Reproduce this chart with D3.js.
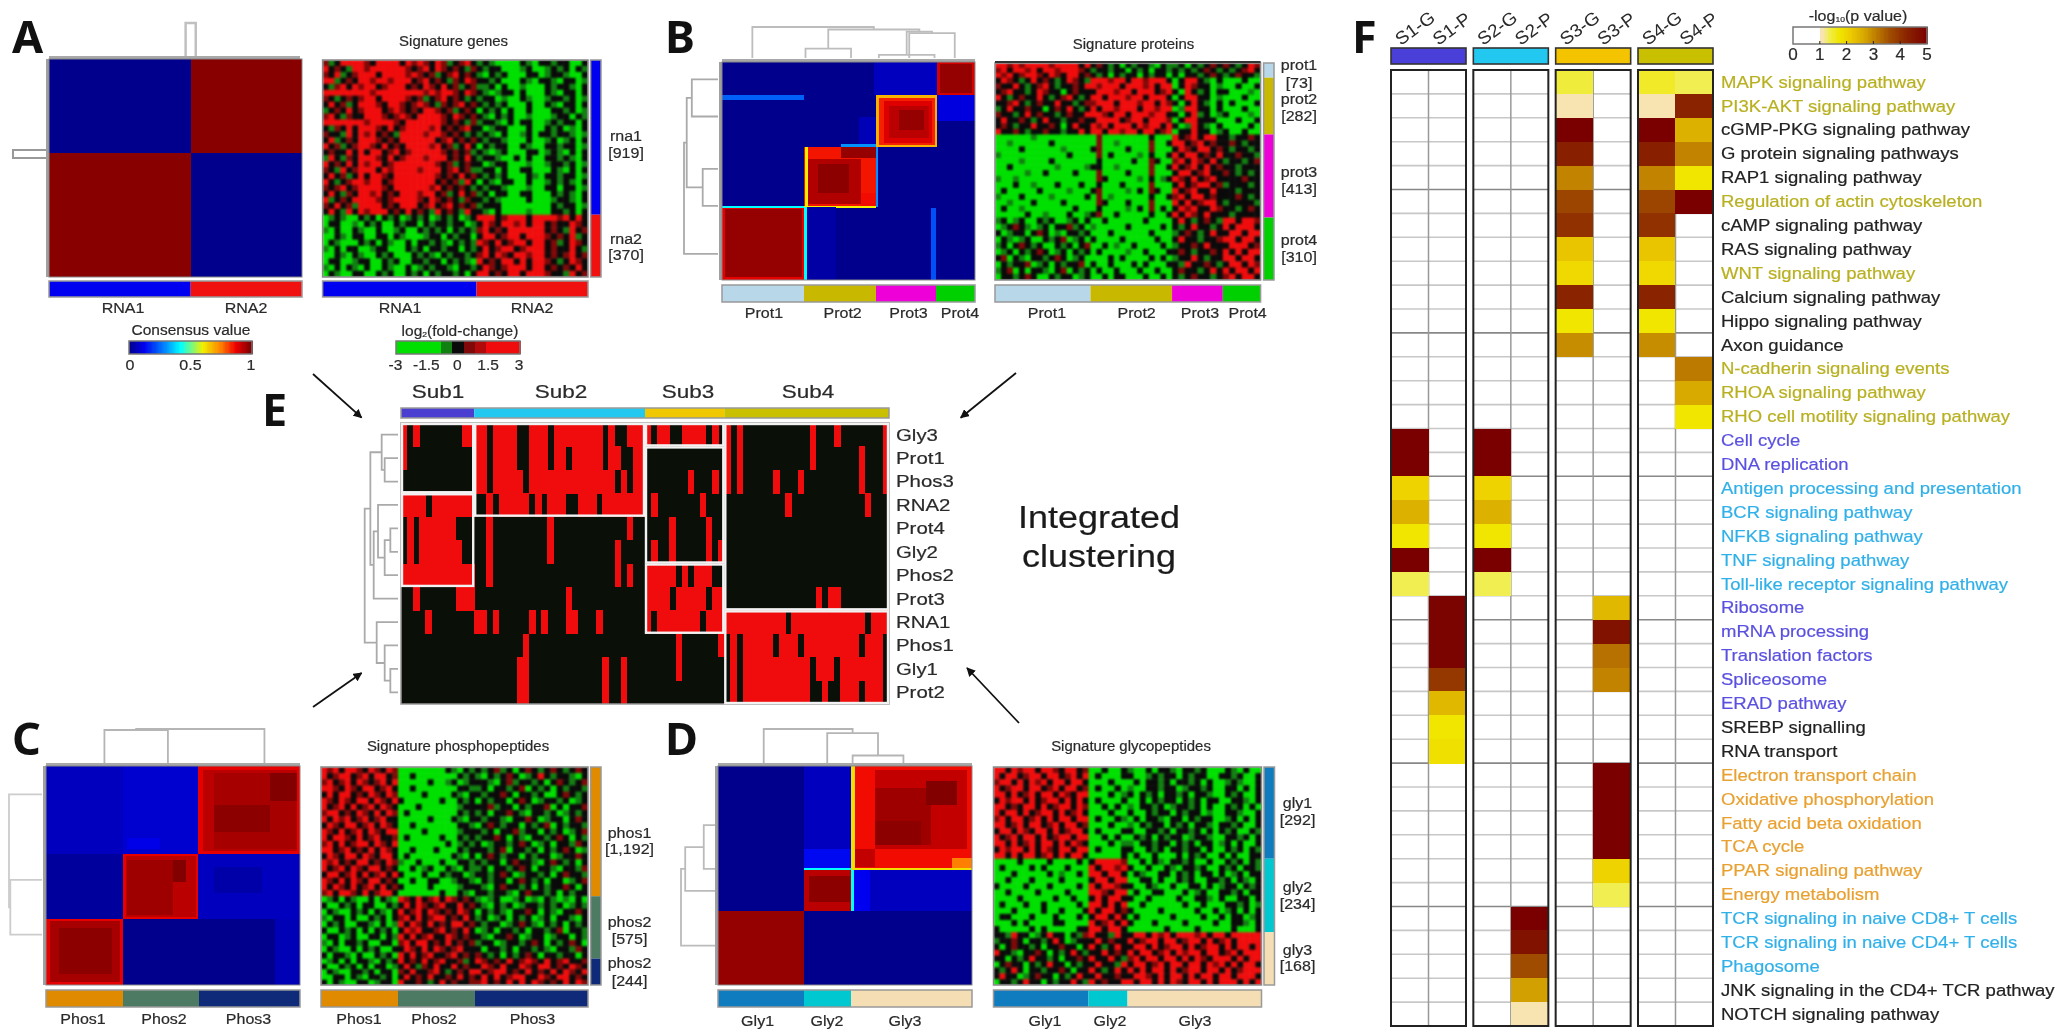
<!DOCTYPE html>
<html><head><meta charset="utf-8">
<script src="https://cdn.jsdelivr.net/npm/d3@7/dist/d3.min.js"></script>
<style>html,body{margin:0;padding:0;background:#fff}svg{display:block;filter:blur(.45px)}text{font-family:"Liberation Sans",Arial,sans-serif;stroke-width:.2px}</style>
</head><body><svg id="c" width="2062" height="1033"></svg>
<script>
// ---------- DATA ----------
const rnaSizes=[919,370], protSizes=[73,282,413,310], phosSizes=[1192,575,244], glySizes=[292,234,168];
const rnaCols=[58,42], protCols=[96,82,51,38], phosCols=[77,77,113], glyCols=[95,39,134];
const rnaConsCols=[56,44], protConsCols=[82,72,60,39], phosConsCols=[77,76,101], glyConsCols=[86,47,121];
const rnaColors=['#0000f0','#f01010'], protColors=['#b8d8ea','#c8b800','#ee00d8','#00d000'],
      phosColors=['#e08a00','#4c7a63','#0f2a78'], glyColors=['#0f7cc0','#00c8d0','#f5deb3'];

// consensus patches: [from col %, to col %, from row %, to row %, consensus value]
const consA=[[56,100,0,43,.985],[0,56,43,100,.985]];
const consB=[
 [60,85,0,15.3,.06],[85,100,15.3,27,.1],[54,60.8,25,38.9,.05],[84.8,100,0,15.3,.9],[86,99,1,14,.97],
 [0,32.5,15.3,17.6,.24],[60.8,84.8,15.3,38.9,.68],[62,84,16.5,38,.84],[64,83,18,37,.89],[66,82,20,35,.93],[70,80,22,31,.97],
 [32.5,60.8,38.9,66.7,.85],[47,60.8,38.9,44,.97],[34,55,44.5,65,.94],[38,50,47,60,.98],[55,60.8,60,66,.86],[34,47,38.9,44.5,.85],
 [33,33.9,38.9,66.7,.6],[32.5,60.8,66.1,66.8,.6],[60.8,61.6,38.9,66.7,.3],[47,60.8,37.6,38.9,.3],
 [0,32.5,66.7,100,.88],[1,31.5,67.6,98.5,.97],[0,32.5,66.1,66.9,.42],[32.5,33.6,66.7,100,.42],
 [33.6,45,66.7,100,.03],[82.5,84.5,67,100,.22]];
const consC=[
 [0,60,0,40,.06],[30.4,60,0,40,.08],[32,45,33,38,.11],[60,100,0,40,.88],[62,98.8,2,39,.93],[66,98.8,3,38,.95],[88,98.8,3,16,.99],[66,88,18,30,.98],
 [60,100,40,69.8,.06],[66,85,46,58,.035],[0,30.4,40,69.8,.02],[30.4,60,40,69.8,.88],[31.5,59,41,69,.93],[32,50,43,68,.96],[50,55,43,53,.99],
 [0,30.4,69.8,100,.88],[1.5,29,71,98.5,.95],[5,26,74,95,.98],[90,100,70,100,.05]];
const consD=[
 [33.7,52.5,0,38,.06],[33.7,52.5,38,46.5,.13],[33.7,52.5,46.5,47.6,.42],
 [52.5,100,0,47.6,.86],[62,98,2,38,.92],[62,84,10,36,.96],[82,94,7,18,.99],[62,80,25,36,.98],[52.5,62,38,46,.92],[92,100,42,47,.75],
 [52.5,54,0,47.6,.62],[52.5,100,46.6,47.6,.62],
 [33.7,52.5,47.6,66.4,.93],[36,52,50,62,.98],[53.5,60,47.6,66.4,.12],[60,100,47.6,66.4,.06],[52.5,53.5,47.6,66.4,.42],
 [0,33.7,66.4,100,.97]];

// signature heat maps: per row cluster, rows of levels, one word per column cluster (G g k r R)
const levelValues={G:-3,g:-1.2,k:0,r:1.2,R:3};
const sigA=[[
"rgkRRRRrkRRRRkRrRrkRrgkrRk gkgGGGGkgGkkgkkGGk","RkrkgRRrRRRRRRrkrRkRrkrkgr kgkkGGGgkGGgkgkGkg","rkRgkrRRRkRRRRrRrkrgkrRkrk gGkgkGGGkkGgkkgGGk","RRgkrkRRrRRrRRRkrRkrkgrkRr kkgkGGGkgGkkgGkkGg",
"kgrRkRrRRkrRRRkrkRrkRkrgkr ggkGkGGgGGGkgkkgGk","RRRRRRRRrRRRRRRRRrRrRRrkRr kgGgkkGkGGGkgGkkGk","rkgkrkrRRkRRRRrkrgkrRkrkgk gkkGgGGkgGGgkkgkGg","kRkrgkRRRrkRRrkrRrkgrkrRkr kgkgkGGGkGGkgGkkGk",
"gkrkRkrRRRkrRrkrkRRrkrgkrk GkgkGkGGkGGGkkgkGg","rRkgrkkRRRrkrRrkRRRRrkRrkr kgGkgkGGgGGGgkkGkg","RRRRRRRrRRRRrkRRRRRRrkrkgr gkkgGkGkkGGgkgkkGk","kgrkRkRRRrkRkrRRRRrRkrkrRk kGgkkGGGkGGkgkGgGk",
"rkkgRkRrRkrkgRRRRrRRrkrkgk gkgGkGGgkGkkgkkgGg","kRgkrkRRRrkrkRRRRRRkrRkrkr kgkkgGGGkGGgkGgkGk","RkrgkrRRrkRkrkRRRRrRkrgkRk GkgkkGGkgGGkkgkkGg","krkkRkRkRRkrRkrRRRRRrkrkrg kgGgkGGGkkGgkgGkGk",
"gRkgrkRRRrkRkrRRRrRRRkrkRk gkkgGGkGkGGkkgkgGk","RkrkRkRrRRkrRRRRRRRrkrgkrk kGgkkGGGgGGgkkgkGg","rkgRkrRRRkRrRRRRrRRRkrRkrg gkkGkGGkkGGGkgGkGk","kRkrgkRkRRrkRRRRRRRrkrkRkr kgkgkGGGkgGkkgkkGg",
"RkgkrRRrRRkrRRRRRRRkrkrgRk GkgGkkGGkGGgkgkgGk","rkrRkrRRRRrkRRRRRRrRkrkrkg kgkkgGGGgGGkkGkkGg","kRkgrkRRrRkrkRRRrRRkrgkRkr gkGkkGGkkGGGkgkgGk","RgkrkRRRRrkrRRRRrkRrkrkgrk kgkgGGGGkGGGgkkgGk",
"rkRkrgRRRRkrkRRRkrRkrRkrkr gkkkGGGGGGGGkgkkGg","kRkgRkRrRRRkrkRkrkgRkrkgRk kgGkGGGGgGGGkkgkGk"],[
"GgkgGGkgkGkgkGgkgkGgkgkGgk RRRkrRRRkRRRRrRkRk","GkkGGgGkgkGGkgkkGkgkkgkkGg kRrkRRrRkRRkrkkRrk","gGkGGkgGGkGGgkGGkgkgkGkgkg rRkrkRRRRRRkrkgRkr","GGkgGkkGGkkGkgGGGgkkGkgkkG kRRkrRRkRRRrkrkRgk",
"GkgGGGkgkGkgGGkGkkgkgGkgkg RrkRkrRRkRRkrgkRrk","gGkGkkGGgkkGGGkgkGkkgkkGkg kRkrRRkrRRRkrkkRkg","GGkgGkgGGkgkGGGkgkgGkgkkgk rRkRrkRRrRRkrkrRkr","GkkGGgkkGGkgkGGkkgkkGkgkgG RkrkRRkRkRRrkgkRrk",
"gGkGkgGkGGkgGGkGgkgkkgGkkg kRrkrRRRkRRkrkrkRk","GkgGGkkGGkgkGGkgkGkgkkgkGk RRkrkRRkRRRrkkgRkr"]];
const sigB=[[
"RRrRrRRRRrRRRRkR krkgkGkgkkgGkg gkGkgkrk rkgkRr","rRkRRrRkRRrRRRrk gkkgkkGkgkGkkg kgkgkrkg kgkrRk","RrRkrRRrkRrkRRkr kgkGkgkkGkgkkG kGkkgkrk gkrkkg"],[
"kRrkgkRkrkgkRrkg RRRrRRkRRrRRRk GkRRkgGk GGGkGG","rkkRkgkrRkgkkrkR RrRRRkRRRrRkRR GkRrkkGg GGkGGk","krRkkgkRrkkGkrkk kRRRrRRkRRRkrR kGRkgkGk kGGGgG","RkgkrkkRkgkrRkgk RRkRRRrRRkRRRk GkRRkkGg GGGkGG",
"kkrRkgkrkkRkkgkr rRRRkRRRrRRkRr kGkRkgGk GkGGGk","gkRkkrkkGkrkRkgk RkRRrRRRkRRrRR GgRRkkGk GGGkGG","rkkgkRkrkkgkrkkR RRrkRRkRRRrRRk kGkRgkGg kGGGgG","kRkkrkgkRkkgkkrk kRRRRkrRRkRRRr GkRRkkkG GGkGGk",
"krkgkkRkkrkGkRkk RrRkRRRkRrRRkR kGgRkgGk GGGGkG","RkkrkgkkrkkgkkRk RRkRRrRRkRRkrR GkkRkkGg kGGkGG"],[
"GGGGGGgGGGGGGGGG GrGGGGGGGGkGGG RkrRkRRk kgkkrk","GGgGGGGGGkGGGGGG GrGGgGGGGGrGGk RRkrRkrk krkgkk","GGGGkGGGGGGgGGGG krGGGGkGGGrGGG kRrkRRkr kgkkgk","gGGGGGGGGGGGkGGG GrGkGGGGgGkGGk RkRRkrkR kkrkkg",
"GGGGgGGGGkGGGGGG GkGGGGGkGGrkGG rRkRrkRk gkkgkr","GGkGGGGGGGgGGGGg kkGGgGGGGGrGGk RkrRkRkr kkgkkk","GGGGGgGGkGGGGkGG GrGGGGkGGGrGGG kRRkrRkk rkgkgk","gGGgGGGGGGGGGGGG GrkGGGGGgGkGgk RrkRkrRk kkkrkk",
"GGGkGGgGGGkGGGkG GkGGGkGGGGrGGG kRkrRRkr gkkkgk","GkGGGGGkGGGGgGGG krGGGGgGkGrkGG RkrRkkRk kkgkkk","gGGGkGGGGgGGGGGk GrGgGGGGGGkGGk rRkRRkrk kkrkgk","GGgGGGkGGGGkGGGG GrkGGGkGGGrGGG RkRkrRRk gkkkkg",
"GkGGgGGGGGGGGkGG GkGGGGgGkGrGkG kRrRkkRr kkgkrk","GGGGGkGGgGGGkGGg krGGkGGGGGkGGk RkRrkRkk kgkkkk"],[
"gkGgkGGkgkGGgkGk GGkGGGGGGkGGGG kRkgkrkg RRkRRr","GgkrkgGgkGkkrgkG gGGGGGkGGGGGkG kgkRkkgk RkRRRk","kGgkkGkrkGgGkkgk GGGkGGGGGGkGGG gkrkgkRk kRRkRR","GkgGgkGGkgkrGgkG kGGGGkGGGGGkGG kRkkgkkr RRkRRk",
"gkGkrkgkGGkgkGkr GGkGgGGkGGGGkG gkkrkRkk kRRRkr","GgkGkgkrkGgkGkgk GkGGGGgGGkGGGk krkgkkrk RkRkRR","krGkgGkkgkrkGgkG GGGkGkGGGGkGkG gkkRkgkk RRkRRk","GkgkkrGgkGkgkkrG kGGkGGGkGkGGGk kgRkkrkg kRRkRr",
"gkrGkGkkgGkrGkgk GkGGkGGGkGGkGG krkkgkRk RkRRkR","GkkgkrkGGkgkkGgk GGkGkkGGGkGGkG kgkrkkgk rRkRRk"]];
const sigC=[[
"RrRkRRrkRrkRr GGGGGGGGkgGkg kgkrgkGkrkgkrkgkrk","RkrRRkrRkRRkr GGkGGGGGGGkgk gGkgkrkGgkRkgkkgGk","rRkrRkRrkrRkR GGGGGkGGgkGgk kkgGkrgkkgkGkrkgkr","RRrkRrkRRkrRk GGkGGGGGGGkkg gkGkkgkrGkgkGkgkkg",
"kRkRRkrkRrkRr GGGGkGGGGkgGk kgkkrkGkkgkGGkrkgk","RrkRrkRRkRrkR kGGGGGGkGGkgk GkgkkGkrkGgkkgkGgk","RkrRkRkrRkRrk GGGkGGGGGGgkk kkrgkkGkgkkrGkGkkr","rRRkrkRrkRkRr GkGGGGGGGGkgk gkGkkrkgGkkgkGgkgk",
"RkRrRkrRkrRkk GGGGGkGGGkgGk kgkkgGkkrkGgkkGkrk","kRrkRRkrRkRrk GGkGGGGGGGkkg GkrkgkkGkgkrGkgkkg","RrkRkrRkRrkRR GGGGkGGGGGgkk kgkGkkrgkkGkgkGgkr","RkRRrkRkrRkkr GkGGGGGkGGkgk gkkrkGkgGkkgkrkGkg",
"rRkRkrRRkRrkR GGGGGGGGkGgkg kGgkkgkrkGgkGkkgrk","RRkrRkrkRkRrk GGkGGGkGGGkgk kkgkrGkkgkGkgkrkGg","kRrkRRkRrkRRk GkGGGGGGGkgGk GkrkgkkGkgkkGgkkrk","RrRkrkRRkrkRr gGGkGGGkGGkkg kgkkGkrkkgGkrkgkGk",
"RkrRkRrkRRkrk GGkGgkGGkgGkg gkGkkgkrkGkkgGkkgr","kRRkrRkRkrRkR kGGGkGGkgkkGg kkgkrkGgkkgkGkrkkg","RrkRkRrkRRkrk GGkGGkkGGgkkg GkgkkGkrkgkGkkGgkr","RkRrkRkrRkRkr kGGGGkGGGGgkk kgGkrkkgkGkgkkrkGk","rRkRRrkRkrRRk GGGGGGGkGGkgG kkgkkgGkrkkgkGkgkk"],[
"GgkGkgGGkGkgG RrkRkrRkRrkrk gGgkGGgkGgGkgGgGkG","kGGkgkGkkGGkg kRkRrkrRkkRkr kgGkgkGgkkgkgkGgkg","GkgGGkgkGkgGk RkrRkRrkrkRrk GkgkgGkkrkGkgGkkrk","gGkkGkGGkgkGk rRkRkrRRkrkRk gkGgkGkgkGgkGkkgGk",
"GkgkGGkkgGkGg RkRrkRkrkRRkr kgkkGgkrkgGkgkGkgk","kGGkgkGkGkgkG kRrRkkrRkrkRk GgkGkkgkGkkgkrGkkg","GkkGgkGGkkGkg RkRkrRkkRrkrk kgGkkrkGgkkGgkkGkg","gGkGkkgkGGkkG rRkRRkrkRkrkr gkkGgkkgkrkGkgkrkG",
"GkgGGkGkgkGGk kRrkRkRrkrRkk kGkkgkGkkgkgGkkgrk","kGkkgGkGGkgkG RkRkrRkkrRkrk rkgkGkgkrkGkkgkkGk"],[
"GgkGkGkkgGkgk RkrkRkrRkkrgk RrkrkRkrRrkRkrRkkr","kGGkgkGkGkkGg kRkgrkRkkRkrk kRrkRkkRrkRRkrkRrk","GkgGGkkgkGkkG rkRkkrRkgkrkR RkrRRkrkRkrkRkRrkR","GGkkGkgGkkgkG kRkrkRkkrkRkr kRkRkrRRkkRrkRRkrk","kGkgGGkkGgkkG RkkrkgkRkrkkr rRkrkRkRkRrkrkRkRr"]];
const sigD=[[
"RRkRrRRkRRrkRRkr GGkGGk gGGkGkkgGkkgkGGGkgGkGG","RkRRkrRRkRRkrRkR GkGGGk kGGgkgkkGkgkkGGkkgkGGk","rRRkRkRrRkRRkRRk GGGkGG GkGkkgkGkkgkGkGGgkgGGk","RkrRRkRRkrRkRRkr GkGGkG gGGkkgkkGgkkgkGGkkGkGk",
"RRkRkrRkRRkRrkRR GGGkGg kGkgkGkkgkGkkgGGkgkGGk","kRrRRkRkrRRkRkRk GkGGGk GGkGkgkkGkgkGkkGGkkgGk","RRkrkRRkRkrRRkRr GGkGkG gGkkgkGgkkgkGkGGkgkGkG","RkRRkRkrRRkRkrRk GGGkGG kGGkgkkGkgkkGgGGkkgGGk",
"rRkRRkrRkRkRRkRR GkGGkg GkGkkgGkkGkgkkGGgkGkGk","RRkrRkRRkrRkRRkr GGGkGG gGkgkkGkgkGkkgGkkgkGGk","kRRkRrkRRkRkrRRk GkGGGk kGGkkgkGkkgkGkGkgkGGkg","RkrRkRRkRkrRRkRR GGkGkG GkgkGkgkkGgkkgGGkkgkGk",
"RRkRkrRkRRkRkRrk GGGkGg gGkkgkkGkgkGkkGgkGkGGk","kRrRRkRkRrkRRkRR GkGGGk kGGkgkGkkgkkGkGGkgkGkg","RRkRkRRkrRkRkRRk GGGGGk GkGGkGGGkGkgkGGkGkGGkk"],[
"GGGGkGGGGkGGGGkG kRRRRr GGkGkgGkkgkGGkGGkgkGkg","GkGGGGkGkGGGkGGG RkRRrR kGGkGGkgGkkgkGGkgkGkkg","GGGkGGGGGkGgGGkG RRkRRk GkgGGkkGkgkGkkGkGgkGkk","GGkGGGkGGGGkGGGG kRRkRR GGkkGkGGkgkGGkkgkGkgGk",
"kGGGGkGGGkGGGGkG RkRRrk kGGkgGGkGGkkGkGgkkGkgk","GGkGGGGkGGGGkGGG RRrkRR GkGGkkGGGkGgkGGkkgkGkk","GGGGkGGGGGkGGkGG kRkRRk kGGkGGGGkGGkkgGkGGkkGk","GkGGGkGGkGGGGGkG RRkRkR GGkGGGGGGkGGkGGGkkgkGg",
"GGGkGGGGkGGkGGGk RkRRkr kGGGGkGGGGGkGGkGgkGkGk","GkkGGGkGGGkGGGkG kRRkRk GkGGGGGkGGGGkGGkGkkGgk","GGGkGkGGGGkkGGGG RkrRkR kGGGkGGGGkGGGGkGGkkgGk","kGGGGGkGkGGGGGkk RRkRRk GGGGGGkGGGGkGGGGGkGGGk"],[
"kkgRkkGgkRkkGkgr RkkgRk kRRkRrRkRRRrRkRRkRRRRR","gkkrkGkkgkRkGgkk kRkrkk RkrRRkRRkrRRkRkrRkRRRR","kGkrkkgkGkkrkkGk RkgkRk kRRkRkrRRkRkrRRkRkRRkR","RkkgGkkrkGkgkRkg kkRkrk RkRRkrRkRrRRkRRkrRkRRR",
"kkGkgkRkkgkGkkrk RkkRkg rRkRRkRRkRkRrkRRRkRkRR","GkrkkGkgkRkkGkgk kRkkgR kRRkrRkRRkRRkRrRkRkRRk","kgkRkGkkgkkrkGkk RkgkRk RkRkRRkRkrRRkRRkRkrRRR","kRkkGgkrkkGkgkRk kRkkrk kRRrkRkRRkRkRRkRRkRRRk","GkkgkRkkGkgkkRkg RkrkkR RkRRkRkRrkRRkRkRRRkRkR"]];

// integrated clustering
const subNames=['Sub1','Sub2','Sub3','Sub4'], subSizes=[12,28,13,27], subColors=['#4a3fd0','#22c8f0','#f0c800','#c8c000'];
const omicsRows=['Gly3','Prot1','Phos3','RNA2','Prot4','Gly2','Phos2','Prot3','RNA1','Phos1','Gly1','Prot2'];
// red column ranges of each row
const omicsRed=[
 "0 2 10-11 12-13 15-18 21-23 25-32 34 37-39 40 42-43 46-49 51 53 55 67 71 79",
 "0 12-13 15-18 21-23 25-26 28-32 34-35 38-39 53 55 67 75 79",
 "12-13 15-19 21-34 36 38-39 47 51 53 55 61 65 75 79",
 "0-3 5-11 14 16-20 22 24-26 29-31 33-39 41 49 63 76",
 "1 3-8 14 24 37 44 50",
 "1 3-9 14 24 35 41 44 50 52",
 "0-11 14 35 37 40-44 46 48-50",
 "2 9-11 27 40-43 45-49 51-52 68 70-71",
 "4 12-13 15 21 23 27-28 32 40 42-48 50-52 53-62 64-75 77-79",
 "20 45 52 54 56-60 62-64 66-74 76-78",
 "19-20 33 36 45 54 56-66 68-70 72-78",
 "19-20 33 36 54 56-66 69 72-74 76-78"];
const omicsBoxes=[[0,12,0,3],[0,12,3,7],[12,40,0,4],[40,53,0,1],[40,53,1,6],[40,53,6,9],[53,80,0,8],[53,80,8,12]];
const omicsTree=[100,[83,[49,0,[40,1,2]],[73,[60,3,[40,[23,4,5],6]],7]],[64,8,[40,9,[23,10,11]]]];

// dendrograms: [height %, left, right], leaves are positions in % of the heat map
const treeATop=[100,54,58], treeALeft=[100,41.7,45.4];
const treeBTop=[100,12,[92,[30,33,51],[85,[10,62,84],[80,74,92]]]];
const treeBLeft=[100,[92,[77,8,25],[45,49,66]],88];
const treeCTop=[100,[97,23,48],86], treeCLeft=[100,13,[96,52,77]];
const treeDTop=[100,18,[88,43,[22,53,73]]];
const treeDLeft=[100,[88,[35,27,47],57],82];

// panel F
const fGroups=['S1','S2','S3','S4'], fTypes=['G','P'], fGroupColors=['#4a3fd8','#22c8f0','#f5c400','#c8c000'];
const pathways=['MAPK signaling pathway','PI3K-AKT signaling pathway','cGMP-PKG signaling pathway','G protein signaling pathways','RAP1 signaling pathway','Regulation of actin cytoskeleton','cAMP signaling pathway','RAS signaling pathway','WNT signaling pathway','Calcium signaling pathway','Hippo signaling pathway','Axon guidance','N-cadherin signaling events','RHOA signaling pathway','RHO cell motility signaling pathway','Cell cycle','DNA replication','Antigen processing and presentation','BCR signaling pathway','NFKB signaling pathway','TNF signaling pathway','Toll-like receptor signaling pathway','Ribosome','mRNA processing','Translation factors','Spliceosome','ERAD pathway','SREBP signalling','RNA transport','Electron transport chain','Oxidative phosphorylation','Fatty acid beta oxidation','TCA cycle','PPAR signaling pathway','Energy metabolism','TCR signaling in naive CD8+ T cells','TCR signaling in naive CD4+ T cells','Phagosome','JNK signaling in the CD4+ TCR pathway','NOTCH signaling pathway'];
const pathwayClass=['o','o','k','k','k','o','k','k','o','k','k','k','o','o','o','p','p','c','c','c','c','c','p','p','p','p','p','k','k','y','y','y','y','y','y','c','c','c','k','k'];
const fS1G=[0,0,0,0,0,0,0,0,0,0,0,0,0,0,0,5,5,2,2.5,1.7,5,1.3,0,0,0,0,0,0,0,0,0,0,0,0,0,0,0,0,0,0];
const fS1P=[0,0,0,0,0,0,0,0,0,0,0,0,0,0,0,0,0,0,0,0,0,0,4.9,4.9,4.9,3.9,2.4,1.7,1.8,0,0,0,0,0,0,0,0,0,0,0];
const fS2G=[0,0,0,0,0,0,0,0,0,0,0,0,0,0,0,5,5,2,2.5,1.7,5,1.3,0,0,0,0,0,0,0,0,0,0,0,0,0,0,0,0,0,0];
const fS2P=[0,0,0,0,0,0,0,0,0,0,0,0,0,0,0,0,0,0,0,0,0,0,0,0,0,0,0,0,0,0,0,0,0,0,0,5,4.6,3.6,2.7,1.1];
const fS3G=[1.4,1.1,5,4.3,3,3.7,4,2.2,1.9,4.2,1.7,2.9,0,0,0,0,0,0,0,0,0,0,0,0,0,0,0,0,0,0,0,0,0,0,0,0,0,0,0,0];
const fS3P=[0,0,0,0,0,0,0,0,0,0,0,0,0,0,0,0,0,0,0,0,0,0,2.4,4.6,3.2,3,0,0,0,5,5,5,5,2,1.3,0,0,0,0,0];
const fS4G=[1.5,1.1,5,4.3,3,3.7,4,2.2,1.9,4.2,1.7,2.9,0,0,0,0,0,0,0,0,0,0,0,0,0,0,0,0,0,0,0,0,0,0,0,0,0,0,0,0];
const fS4P=[1.3,4.2,2.5,3,1.7,5,0,0,0,0,0,0,3.1,2.6,1.7,0,0,0,0,0,0,0,0,0,0,0,0,0,0,0,0,0,0,0,0,0,0,0,0,0];
const fValues=[fS1G,fS1P,fS2G,fS2P,fS3G,fS3P,fS4G,fS4P];
const fTicks=[0,1,2,3,4,5], consTicks=[0,.5,1], logTicks=[-3,-1.5,0,1.5,3], logSteps=[-3,-3,-3,-3,-1.2,0,1.2,2,3,3,3];

// ---------- SCALES ----------
const consColor=d3.scaleLinear().domain([0,.12,.3,.42,.6,.75,.87,1]).range(['#00008c','#0000f0','#0090ff','#00ffff','#f0f000','#ff8000','#f00000','#7a0000']);
const logColor=d3.scaleLinear().domain([-3,-1.2,0,1.2,3]).range(['#00e000','#108010','#0a0a0a','#800808','#f00c0c']);
const pColor=v=>v<1?'#ffffff':d3.scaleLinear().domain([1,1.1,1.3,1.7,2.1,2.6,3.1,3.6,4.2,5]).range(['#f8e4b0','#f8e4b0','#f0ee50','#f0e600','#edcc00','#d8aa00','#bc7a00','#a04c00','#8a2400','#7a0000'])(v);
const classColor={o:'#b8b020',k:'#222',p:'#5a50e0',c:'#30b0e8',y:'#e8a030'};

// ---------- HELPERS ----------
const svg=d3.select('#c');
const ink='#2a2a2a';
function label(x,y,s,size=15,anchor='middle',fill=ink,sx=1.07,weight='normal'){
  return svg.append('text').attr('transform',`translate(${x},${y}) scale(${sx},1)`).attr('text-anchor',anchor)
   .attr('dominant-baseline','central').attr('font-size',size).attr('font-weight',weight).attr('fill',fill).attr('stroke',fill).text(s);
}
function letter(x,y,s){svg.append('text').attr('x',x).attr('y',y).attr('font-size',45).attr('font-weight',700).attr('fill','#111').style('font-family','"Noto Sans"').text(s);}
function edges(sizes){return d3.cumsum([0,...sizes]);}
function hbar(x0,x1,y0,y1,sizes,colors){
  const e=edges(sizes),x=d3.scaleLinear([0,e[e.length-1]],[x0,x1]);
  svg.append('g').selectAll('rect').data(sizes).join('rect').attr('x',(d,i)=>x(e[i])).attr('width',(d,i)=>x(e[i+1])-x(e[i])).attr('y',y0).attr('height',y1-y0).attr('fill',(d,i)=>colors[i]);
  svg.append('rect').attr('x',x0).attr('y',y0).attr('width',x1-x0).attr('height',y1-y0).attr('fill','none').attr('stroke','#999').attr('stroke-width',1.5);
}
function vbar(x0,x1,y0,y1,sizes,colors){
  const e=edges(sizes),y=d3.scaleLinear([0,e[e.length-1]],[y0,y1]);
  svg.append('g').selectAll('rect').data(sizes).join('rect').attr('y',(d,i)=>y(e[i])).attr('height',(d,i)=>y(e[i+1])-y(e[i])).attr('x',x0).attr('width',x1-x0).attr('fill',(d,i)=>colors[i]);
  svg.append('rect').attr('x',x0).attr('y',y0).attr('width',x1-x0).attr('height',y1-y0).attr('fill','none').attr('stroke','#999').attr('stroke-width',1.5);
}
function consensus(x0,x1,y0,y1,patches){
  const x=d3.scaleLinear([0,100],[x0,x1]),y=d3.scaleLinear([0,100],[y0,y1]);
  const g=svg.append('g').attr('shape-rendering','crispEdges');
  g.append('rect').attr('x',x0).attr('y',y0).attr('width',x1-x0).attr('height',y1-y0).attr('fill',consColor(0));
  g.selectAll('.p').data(patches).join('rect').attr('x',d=>x(d[0])).attr('width',d=>x(d[1])-x(d[0])).attr('y',d=>y(d[2])).attr('height',d=>y(d[3])-y(d[2])).attr('fill',d=>consColor(d[4]));
  svg.append('rect').attr('x',x0).attr('y',y0).attr('width',x1-x0).attr('height',y1-y0).attr('fill','none').attr('stroke','#888').attr('stroke-width',1);
}
function signature(x0,x1,y0,y1,colSizes,rowSizes,grid){
  const ce=edges(colSizes),re=edges(rowSizes);
  const x=d3.scaleLinear([0,ce[ce.length-1]],[x0,x1]),y=d3.scaleLinear([0,re[re.length-1]],[y0,y1]);
  const cells=[];
  grid.forEach((rows,ri)=>{
    const yb=d3.scaleBand().domain(d3.range(rows.length)).range([y(re[ri]),y(re[ri+1])]);
    rows.forEach((row,k)=>row.split(' ').forEach((seg,ci)=>{
      const xb=d3.scaleBand().domain(d3.range(seg.length)).range([x(ce[ci]),x(ce[ci+1])]);
      [...seg].forEach((c,j)=>cells.push({x:xb(j),w:xb.bandwidth(),y:yb(k),h:yb.bandwidth(),v:levelValues[c]}));
    }));
  });
  const defsId='cl'+Math.round(x0)+'_'+Math.round(y0);
  svg.append('clipPath').attr('id',defsId).append('rect').attr('x',x0).attr('y',y0).attr('width',x1-x0).attr('height',y1-y0);
  const g=svg.append('g').attr('clip-path',`url(#${defsId})`).append('g').style('filter','blur(1px)');
  g.selectAll('rect').data(cells).join('rect').attr('x',d=>d.x).attr('y',d=>d.y).attr('width',d=>d.w+.5).attr('height',d=>d.h+.5).attr('fill',d=>logColor(d.v));
  svg.append('rect').attr('x',x0).attr('y',y0).attr('width',x1-x0).attr('height',y1-y0).attr('fill','none').attr('stroke','#888').attr('stroke-width',1.5);
}
// draws [h,a,b] trees. pos/hgt are the scales of leaf position and of height
function tree(node,pos,hgt,vertical,stroke='#bdbdbd',w=1.8){
  const out=[];
  function walk(n){
    if(typeof n==='number') return {p:pos(n),h:hgt(0)};
    const a=walk(n[1]),b=walk(n[2]),h=hgt(n[0]);
    out.push(vertical?`M${a.p},${a.h}V${h}H${b.p}V${b.h}`:`M${a.h},${a.p}H${h}V${b.p}H${b.h}`);
    return {p:(a.p+b.p)/2,h};
  }
  walk(node);
  svg.append('g').selectAll('path').data(out).join('path').attr('d',d=>d).attr('fill','none').attr('stroke',stroke).attr('stroke-width',w);
}
const sc=(a,b)=>d3.scaleLinear([0,100],[a,b]);
function bandTop(x0,x1,y){svg.append('rect').attr('x',x0).attr('y',y-3).attr('width',x1-x0).attr('height',3).attr('fill','#a8a8a8');}
function bandLeft(x,y0,y1){svg.append('rect').attr('x',x-3).attr('y',y0).attr('width',3).attr('height',y1-y0).attr('fill','#a0a0a0');}
function colorLegend(x0,x1,y0,y1,vals,color){
  const b=d3.scaleBand().domain(d3.range(vals.length)).range([x0,x1]);
  svg.append('g').attr('shape-rendering','crispEdges').selectAll('rect').data(vals).join('rect').attr('x',(d,i)=>b(i)).attr('width',b.bandwidth()+.5).attr('y',y0).attr('height',y1-y0).attr('fill',d=>color(d));
  svg.append('rect').attr('x',x0).attr('y',y0).attr('width',x1-x0).attr('height',y1-y0).attr('fill','none').attr('stroke','#777').attr('stroke-width',1.5);
}

// ---------- PANEL A ----------
letter(12,53,'A');
tree(treeATop,sc(49,302),sc(57,23),true,'#c0c0c0',2.5);
tree(treeALeft,sc(59,277),sc(47,13),false,'#999',2);
bandTop(49,300,59);bandLeft(49,59,277);
consensus(49,302,59,277,consA);
hbar(49,302,281,297,rnaConsCols,rnaColors);
label(123,308,'RNA1');label(246,308,'RNA2');
signature(322.6,588,60,277,rnaCols,rnaSizes,sigA);
vbar(590.6,601,60,277,rnaSizes,rnaColors);
hbar(322.6,588,281,297,rnaCols,rnaColors);
label(400,308,'RNA1');label(532,308,'RNA2');
label(626,136,'rna1');label(626,153,'[919]');label(626,239,'rna2');label(626,255,'[370]');
label(453.6,41,'Signature genes',14);
label(191,330,'Consensus value',14.5);
colorLegend(129,252,341,354,d3.range(0,1.005,.01),consColor);
const consX=d3.scaleLinear([0,1],[130,251]);
consTicks.forEach(t=>label(consX(t),365,t,15));
{const t=label(460,330,'log',14.5);t.text(null);t.append('tspan').text('log');t.append('tspan').attr('font-size',8).attr('dy',4).text('2');t.append('tspan').attr('dy',-4).text('(fold-change)');}
colorLegend(396,520,341,354,logSteps,logColor);
const logX=d3.scaleLinear([-3,3],[395.5,519]);
logTicks.forEach(t=>label(logX(t),365,t,14.5));

// ---------- PANEL B ----------
letter(665,53,'B');
tree(treeBTop,sc(722,975),sc(58,27),true);
tree(treeBLeft,sc(62,280),sc(718,684),false,'#aaa');
bandTop(722,975,62);bandLeft(722,62,280);
consensus(722,975,62,280,consB);
hbar(722,975,285,302,protConsCols,protColors);
[['Prot1',764],['Prot2',842.6],['Prot3',908.5],['Prot4',960]].forEach(d=>label(d[1],313,d[0]));
signature(995,1260.6,63,280,protCols,protSizes,sigB);
svg.append('rect').attr('x',995).attr('y',61).attr('width',265.6).attr('height',2).attr('fill','#333');
vbar(1263.6,1274,63,280,protSizes,protColors);
hbar(995,1260.6,285,302,protCols,protColors);
[['Prot1',1047],['Prot2',1136.6],['Prot3',1200],['Prot4',1247.6]].forEach(d=>label(d[1],313,d[0]));
[['prot1',65],['[73]',83],['prot2',99],['[282]',116],['prot3',172],['[413]',189],['prot4',240],['[310]',257]].forEach(d=>label(1299,d[1],d[0]));
label(1133.5,44,'Signature proteins',14);

// ---------- PANEL E ----------
letter(262,426,'E');
const omX=d3.scaleLinear([0,80],[401,889]);
const omY=d3.scaleBand().domain(d3.range(12)).range([423,704]);
const omCells=[];
omicsRed.forEach((s,r)=>s.split(' ').forEach(t=>{const[a,b=a]=t.split('-').map(Number);d3.range(a,b+1).forEach(c=>omCells.push({r,c}));}));
svg.append('rect').attr('x',401).attr('y',423).attr('width',488).attr('height',281).attr('fill','#0a0f08');
svg.append('g').attr('shape-rendering','crispEdges').selectAll('rect').data(omCells).join('rect').attr('x',d=>omX(d.c)).attr('width',omX(1)-omX(0)+.3).attr('y',d=>omY(d.r)).attr('height',omY.bandwidth()+.3).attr('fill','#f00c0c');
svg.append('rect').attr('x',401).attr('y',423).attr('width',488).attr('height',281).attr('fill','none').attr('stroke','#999').attr('stroke-width',1.5);
svg.append('g').selectAll('rect').data(omicsBoxes).join('rect').attr('x',d=>omX(d[0])+1).attr('width',d=>omX(d[1])-omX(d[0])-2).attr('y',d=>omY.step()*d[2]+423+1).attr('height',d=>omY.step()*(d[3]-d[2])-2).attr('fill','none').attr('stroke','#f2f2f2').attr('stroke-width',2.4);
hbar(401,889,408,418,subSizes,subColors);
subNames.forEach((s,i)=>label([438,561,688,808][i],392,s,18,'middle',ink,1.25));
omicsRows.forEach((s,i)=>label(896,omY(i)+omY.bandwidth()/2,s,17,'start',ink,1.2));
tree(omicsTree,d=>omY(d)+omY.bandwidth()/2,sc(398,364.7),false,'#aaa',1.8);
label(1099,517,'Integrated',31,'middle','#1a1a1a',1.16);
label(1099,556,'clustering',31,'middle','#1a1a1a',1.16);
svg.append('defs').append('marker').attr('id','ah').attr('viewBox','0 0 10 10').attr('refX',9).attr('refY',5).attr('markerWidth',9).attr('markerHeight',9).attr('markerUnits','userSpaceOnUse').attr('orient','auto').append('path').attr('d','M0,0L10,5L0,10Z').attr('fill','#111');
[[313,374,361.6,417.7],[1016,373,960.7,417.7],[313,707,361.6,673],[1019,723,967,668]].forEach(a=>
 svg.append('line').attr('x1',a[0]).attr('y1',a[1]).attr('x2',a[2]).attr('y2',a[3]).attr('stroke','#111').attr('stroke-width',1.8).attr('marker-end','url(#ah)'));

// ---------- PANEL C ----------
letter(12,755,'C');
tree(treeCTop,sc(46,300),sc(763,729),true,'#b5b5b5');
tree(treeCLeft,sc(766,985),sc(42,9),false,'#ccc');
bandTop(46,300,766);bandLeft(46,766,985);
consensus(46,300,766,985,consC);
hbar(46,300,990,1007,phosConsCols,phosColors);
label(83,1019,'Phos1');label(164,1019,'Phos2');label(248.5,1019,'Phos3');
signature(321,588,767,985,phosCols,phosSizes,sigC);
vbar(590.6,601,767,985,phosSizes,phosColors);
hbar(321,588,990,1007,phosCols,phosColors);
label(359,1019,'Phos1');label(434,1019,'Phos2');label(532.5,1019,'Phos3');
[['phos1',833],['[1,192]',849],['phos2',922],['[575]',939],['phos2',963],['[244]',981]].forEach(d=>label(629.5,d[1],d[0]));
label(458,746,'Signature phosphopeptides',14);

// ---------- PANEL D ----------
letter(665,755,'D');
tree(treeDTop,sc(718,972),sc(763,729),true,'#b5b5b5');
tree(treeDLeft,sc(766,985),sc(716,681),false,'#bbb');
bandTop(718,972,766);bandLeft(718,766,985);
consensus(718,972,766,985,consD);
hbar(718,972,990,1007,glyConsCols,glyColors);
label(757.6,1021,'Gly1');label(827,1021,'Gly2');label(905,1021,'Gly3');
signature(993.5,1261.5,767,985,glyCols,glySizes,sigD);
vbar(1264,1274.5,767,985,glySizes,glyColors);
hbar(993.5,1261.5,990,1007,glyCols,glyColors);
label(1045,1021,'Gly1');label(1110,1021,'Gly2');label(1195,1021,'Gly3');
[['gly1',803],['[292]',820],['gly2',887],['[234]',904],['gly3',950],['[168]',966]].forEach(d=>label(1297.5,d[1],d[0]));
label(1131,746,'Signature glycopeptides',14);

// ---------- PANEL F ----------
letter(1352,53,'F');
const gx=d3.scaleBand().domain(fGroups).range([1391,1713]).paddingInner(.089);
const tx=d3.scaleBand().domain(fTypes).range([0,gx.bandwidth()]);
const fy=d3.scaleBand().domain(pathways).range([70,1026]);
const colKeys=fGroups.flatMap(g=>fTypes.map(t=>({g,t})));
const fg=svg.append('g');
fGroups.forEach((g,i)=>{
  const x0=gx(g);
  fg.append('rect').attr('x',x0).attr('y',70).attr('width',gx.bandwidth()).attr('height',956).attr('fill','#fff');
  fg.append('g').selectAll('line').data(pathways).join('line').attr('x1',x0).attr('x2',x0+gx.bandwidth()).attr('y1',d=>fy(d)).attr('y2',d=>fy(d)).attr('stroke',(d,k)=>k%6===5?'#888':'#c8c8c8').attr('stroke-width',1.6);
  fg.append('line').attr('x1',x0+tx('P')).attr('x2',x0+tx('P')).attr('y1',70).attr('y2',1026).attr('stroke','#999').attr('stroke-width',1.5);
  fg.append('rect').attr('x',x0).attr('y',48).attr('width',gx.bandwidth()).attr('height',16).attr('fill',fGroupColors[i]).attr('stroke','#333').attr('stroke-width',1.6);
});
const fCells=[];
fValues.forEach((col,c)=>col.forEach((v,r)=>{if(v>=1)fCells.push({c,r,v});}));
fg.append('g').attr('shape-rendering','crispEdges').selectAll('rect').data(fCells).join('rect')
 .attr('x',d=>gx(colKeys[d.c].g)+tx(colKeys[d.c].t)).attr('width',tx.bandwidth()).attr('y',d=>fy(pathways[d.r])).attr('height',fy.bandwidth()+.5).attr('fill',d=>pColor(d.v));
fGroups.forEach(g=>fg.append('rect').attr('x',gx(g)).attr('y',70).attr('width',gx.bandwidth()).attr('height',956).attr('fill','none').attr('stroke','#222').attr('stroke-width',2));
colKeys.forEach(k=>{
  const x=gx(k.g)+tx(k.t)+tx.bandwidth()/2-9;
  svg.append('text').attr('transform',`translate(${x},46) rotate(-36) scale(1.05,1)`).attr('font-size',18).attr('fill',ink).text(k.g+'-'+k.t);
});
pathways.forEach((p,i)=>label(1721,fy(p)+fy.bandwidth()/2,p,17,'start',classColor[pathwayClass[i]],1.09));
// legend
const pX=d3.scaleLinear([0,5],[1793,1927]);
colorLegend(1793,1927,27,44,d3.range(0,5,.05),pColor);
svg.append('g').selectAll('line').data(fTicks.slice(1,5)).join('line').attr('x1',d=>pX(d)).attr('x2',d=>pX(d)).attr('y1',41).attr('y2',44).attr('stroke','#222');
fTicks.forEach(t=>label(pX(t),55,t,16));
{const t=label(1858,15,'',15);t.append('tspan').text('-log');t.append('tspan').attr('font-size',8).attr('dy',4).text('10');t.append('tspan').attr('dy',-4).text('(p value)');}
</script></body></html>
